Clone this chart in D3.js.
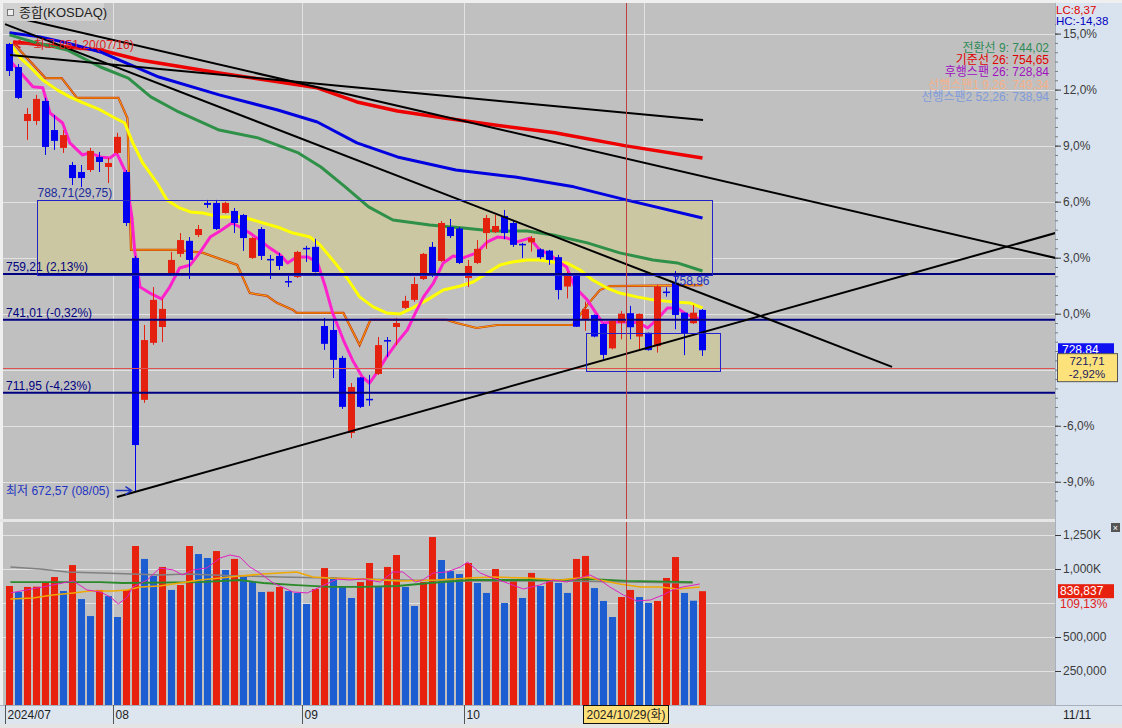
<!DOCTYPE html>
<html>
<head>
<meta charset="utf-8">
<script src="https://cdn.jsdelivr.net/npm/d3@7"></script>
<style>
  body { margin: 0; background: #efefef; }
</style>
</head>
<body>
<div id="app"></div>
<script>
// ---- data ----
const dates = [
  '2024/07/16','2024/07/17','2024/07/18','2024/07/19','2024/07/22','2024/07/23','2024/07/24','2024/07/25','2024/07/26','2024/07/29','2024/07/30','2024/07/31',
  '2024/08/01','2024/08/02','2024/08/05','2024/08/06','2024/08/07','2024/08/08','2024/08/09','2024/08/12','2024/08/13','2024/08/14','2024/08/16','2024/08/19','2024/08/20','2024/08/21','2024/08/22','2024/08/23','2024/08/26','2024/08/27','2024/08/28','2024/08/29','2024/08/30',
  '2024/09/02','2024/09/03','2024/09/04','2024/09/05','2024/09/06','2024/09/09','2024/09/10','2024/09/11','2024/09/12','2024/09/13','2024/09/19','2024/09/20','2024/09/23','2024/09/24','2024/09/25','2024/09/26','2024/09/27','2024/09/30',
  '2024/10/02','2024/10/04','2024/10/07','2024/10/08','2024/10/10','2024/10/11','2024/10/14','2024/10/15','2024/10/16','2024/10/17','2024/10/18','2024/10/21','2024/10/22','2024/10/23','2024/10/24','2024/10/25','2024/10/28','2024/10/29','2024/10/30','2024/10/31',
  '2024/11/01','2024/11/04','2024/11/05','2024/11/06','2024/11/07','2024/11/08','2024/11/11'
];
const open = [850.8,841.6,820.1,820.1,828.1,816.5,809.4,802.6,799.8,800.6,805.8,801.8,807.4,799.8,765.6,709.1,731.8,738.1,759.6,767.2,
  772.4,774.7,787.5,787.5,783.5,784.3,782.7,765.6,777.1,765.2,766.4,756.4,758.0,769.6,770.0,738.5,736.9,725.8,695.9,718.0,
  709.5,719.4,732.9,738.1,745.7,748.9,757.2,770.0,764.4,777.9,777.3,757.6,763.6,775.5,775.9,782.3,779.5,771.2,771.8,769.0,
  768.5,765.9,754.2,759.2,741.2,742.9,739.3,729.6,739.8,743.6,734.3,735.8,730.5,752.2,755.7,743.8,739.6,744.9];
const high = [851.2,842.8,825.3,830.5,829.3,822.5,816.5,803.8,802.6,809.4,807.8,805.4,815.4,800.6,766.4,738.9,754.0,749.3,768.0,775.5,
  773.9,778.7,788.7,788.7,788.0,785.5,783.1,773.9,777.9,766.8,767.6,758.8,768.4,770.4,773.2,741.7,740.9,726.6,715.8,718.2,
  719.0,734.1,734.1,741.7,750.5,758.0,767.6,771.9,780.3,781.1,777.9,764.8,772.7,782.7,782.7,784.7,780.3,771.6,774.3,769.4,
  768.8,766.8,760.1,759.6,748.2,743.1,739.5,740.7,744.5,746.5,743.5,735.9,754.8,753.9,760.4,743.9,746.9,745.2];
const low = [838.0,828.9,812.6,818.5,806.6,808.6,807.4,794.6,793.8,799.8,799.8,795.4,807.0,778.3,672.57,707.9,731.0,732.1,758.8,766.0,
  757.2,773.9,785.5,776.7,783.3,775.5,768.4,765.2,764.8,757.2,760.8,754.0,757.6,764.0,759.8,729.0,717.8,705.5,693.9,705.9,
  706.7,719.0,726.2,730.9,745.3,748.1,756.8,758.0,764.0,773.5,763.2,754.0,763.2,769.2,775.5,773.1,770.0,765.6,768.1,765.1,
  762.8,749.1,749.5,738.1,736.6,734.0,725.3,729.2,733.2,733.2,729.2,728.7,727.9,750.2,737.2,726.9,739.3,726.6];
const close = [840.0,829.3,822.9,828.9,809.8,812.2,814.5,797.4,797.4,808.2,803.8,803.4,813.8,779.5,691.1,732.9,748.9,745.3,764.8,772.7,
  764.8,777.1,786.7,777.1,787.5,779.5,773.5,773.5,766.4,764.8,762.4,756.0,768.0,769.2,760.0,731.4,725.0,706.3,714.2,706.3,
  709.1,730.9,732.5,739.7,748.5,755.2,767.2,758.8,779.5,774.3,763.6,762.4,769.2,781.5,778.3,775.5,770.8,770.8,773.5,765.9,
  764.8,752.8,759.2,738.2,745.2,734.3,727.0,740.6,743.4,738.0,743.3,728.9,754.2,752.0,742.9,735.6,743.8,728.84];
// volume in thousands
const volume = [875,831,868,870,897,941,838,1029,779,654,846,801,647,846,1169,1074,949,1015,846,882,
  1169,1110,1081,1132,993,1074,941,904,831,833,868,838,824,743,853,1007,941,868,787,904,
  1044,868,1015,1103,868,728,904,1235,1066,985,963,1044,897,824,1000,750,912,787,971,875,
  912,897,824,1074,1096,860,765,647,794,846,794,750,765,934,1088,824,766.8,836.837];

// moving averages as [bar index, value]
const ma5 = [[0,844.4],[2.6,833.7],[3.7,833.3],[4.5,823.3],[5.9,819.3],[6.7,811.4],[8.1,806.6],[8.9,807.4],[10.1,805.8],[11.2,805.4],
  [11.9,807.4],[12.8,800.6],[13.6,781.9],[13.9,768.8],[14.5,754.0],[15.6,751.6],[16.9,749.3],[17.8,754.0],[18.9,761.6],[20.1,762.8],
  [21.2,768.0],[22.3,773.9],[23.4,776.3],[24.7,779.5],[25.6,777.9],[26.7,775.5],[27.8,772.7],[28.9,769.6],[30.1,766.8],[30.9,763.6],
  [31.9,766.0],[33.1,766.0],[34.2,764.0],[35.1,754.0],[35.9,743.7],[37.1,732.9],[38.1,725.0],[39.2,718.2],[40.0,715.8],[40.8,719.8],
  [41.9,726.2],[43.0,731.7],[44.2,736.9],[45.1,743.7],[46.0,750.1],[47.1,755.6],[48.2,763.6],[49.3,766.4],[50.4,765.6],[51.9,767.6],
  [53.1,772.0],[54.2,773.9],[55.3,773.5],[56.4,772.0],[57.8,773.5],[58.9,768.8],[60.1,766.8],[61.2,763.6],[61.9,762.0],[62.8,754.0],
  [64.2,748.9],[65.3,742.9],[65.9,739.7],[67.5,740.1],[68.9,740.1],[70.0,739.7],[70.9,737.7],[71.9,740.9],[73.1,745.7],[74.2,745.7],
  [75.3,742.9],[76.4,741.7],[77,739.7]];
const ma20 = [[0,851.2],[1.2,845.2],[2.3,841.6],[3.7,836.4],[5.3,832.5],[6.7,829.7],[8.2,827.3],[10.1,824.5],[11.5,821.7],[12.8,819.3],
  [13.7,811.4],[14.8,803.4],[16.4,795.4],[17.5,788.7],[18.9,785.5],[20.1,783.9],[21.5,783.5],[23.4,781.9],[25.9,781.9],[28.2,779.5],
  [30.1,777.5],[31.5,775.5],[33.4,773.9],[34.5,770.8],[35.9,764.8],[37.5,757.6],[38.9,750.1],[40.4,746.1],[41.9,743.7],[43.4,743.3],
  [44.8,745.7],[46.4,748.9],[48.2,752.8],[50.1,754.4],[51.5,756.0],[53.1,759.6],[54.5,762.8],[55.9,764.0],[57.5,764.8],[58.9,764.8],
  [60.4,764.0],[61.9,763.6],[63.4,760.8],[64.8,756.8],[66.4,753.6],[67.8,751.6],[69.7,750.1],[71.5,748.9],[73.7,748.1],[75.6,747.7],[77,745.7]];
const ma60 = [[0,854.4],[2.6,851.6],[6.4,848.4],[10.1,841.6],[13.2,837.2],[15.7,829.7],[18.8,823.7],[23.3,816.5],[27.6,813.4],[32.1,807.4],
  [34.6,801.8],[37.3,793.9],[39.9,785.9],[42.6,780.7],[46.7,778.7],[50.4,777.5],[53.7,776.3],[57.5,776.3],[60.4,774.7],[64.2,771.6],
  [67.8,767.6],[71.5,764.8],[74.2,763.6],[77,760.4]];
const ma120 = [[0,855.2],[3.4,853.6],[6.4,851.2],[10.1,847.6],[16.6,837.6],[23.3,830.5],[29.8,824.5],[34.2,819.7],[38.6,811.4],[43.1,805.8],
  [49.6,800.6],[56.2,797.8],[62.7,793.9],[68.5,788.7],[77,781.5]];
const ma240 = [[0.4,851.6],[6.4,849.6],[10.1,848.4],[14.5,844.4],[23.3,839.2],[29.8,835.7],[34.2,833.3],[38.6,827.7],[43.1,824.1],[48.3,821.3],
  [53.9,818.5],[60.6,815.4],[68.5,810.2],[77,805.4]];
const kijun = [[0,850.4],[0.6,850.4],[4.0,837.2],[5.8,837.2],[7.5,829.3],[12.1,829.3],[13.1,821.3],[13.5,768.8],[14.2,768.8],[18.6,768.8],
  [21.5,767.6],[25.3,762.8],[26.7,751.6],[28.6,750.5],[29.7,747.7],[31.5,744.9],[31.9,743.7],[37.1,743.7],[38.9,730.9],[40.1,740.9],
  [48.6,740.9],[49.7,739.7],[51.9,737.7],[54.2,738.9],[62.6,738.9],[64.2,746.9],[65.6,752.8],[66.7,754.4],[77,754.8]];

const volMa5 = [[0.1,824],[1.9,846],[3.7,868],[5.9,897],[7.1,912],[8.6,846],[10.1,831],[11.2,794],[12.1,743],[13.1,794],[13.7,868],
  [15.3,919],[16.7,1007],[18.2,993],[19.2,956],[20.4,993],[21.9,1007],[23.4,1081],[24.5,1103],[25.6,1088],[26.7,1015],[27.8,971],
  [29.3,897],[31.5,831],[33.1,824],[34.5,868],[36.4,926],[37.8,919],[39.3,926],[41.2,904],[42.6,978],[43.7,978],[45.1,904],[45.9,919],
  [47.1,971],[48.6,978],[50.1,1015],[50.9,1051],[52.3,971],[53.4,941],[55.3,897],[57.1,853],[58.9,882],[60.4,919],[61.9,904],
  [63.4,934],[64.5,956],[65.6,919],[66.7,868],[68.2,809],[69.7,765],[71.2,772],[72.6,809],[73.7,846],[74.8,868],[76.7,890]];
const volMa20 = [[0.1,779],[2.6,787],[4.8,809],[7.1,824],[8.9,838],[11.5,838],[13.1,846],[14.5,868],[16.7,875],[18.9,897],[21.2,919],
  [23.4,934],[25.6,949],[28.2,963],[31.9,978],[33.7,941],[35.6,934],[39.3,926],[43.4,912],[47.5,919],[51.2,934],[53.7,941],[57.5,934],
  [61.2,919],[64.2,941],[65.6,919],[67.8,890],[70.1,868],[72.3,868],[74.2,853],[76.7,868]];
const volMa60 = [[0.1,904],[10.1,904],[12.6,897],[21.2,904],[25.6,919],[28.2,897],[31.9,882],[35.6,868],[39.3,868],[43.1,875],[46.7,897],
  [51.2,919],[61.2,919],[64.8,926],[68.6,912],[75.9,904]];
const volMa120 = [[0.1,1015],[3.4,1000],[6.4,978],[10.1,971],[13.7,963],[16.7,956],[19.7,963],[22.6,956],[25.6,949],[30.1,941],[35.6,934],
  [43.1,919],[51.2,912],[61.2,912],[68.6,904],[75.9,897]];

// drawn objects: horizontal levels, boxes, trend lines ([index, price] end points)
const levels = [759.21, 741.01, 711.95];
const boxRange = { from: 3, to: 78, lo: 758.96, hi: 788.71 };
const boxSmall = { from: 64, to: 78.9, lo: 720.6, hi: 735.7 };
const trendLines = [
  [[-0.5, 862.3], [116.2, 765.6]],
  [[-0.5, 858.7], [98.06, 722.2]],
  [[0.06, 846.4], [77.06, 820.5]],
  [[11.94, 670.4], [116.2, 775.5]]
];
const ichiNames = ['전환선 9', '기준선 26', '후행스팬 26', '선행스팬1 9,26', '선행스팬2 52,26'];
const ichiValues = [744.02, 754.65, 728.84, 749.34, 738.94];
const ichiColors = ['#2e8b57', '#e00000', '#a010c0', '#f5b08a', '#7f9bdc'];
const pctTicks = [15, 12, 9, 6, 3, 0, -3, -6, -9];
const volTicks = [250, 500, 750, 1000, 1250];
const cursorIdx = 68;
const cursorPrice = 721.71;
const lcText = 'LC:8,37';
const hcText = 'HC:-14,38';

// ---- layout ----
const plot = { left: 3, right: 1055, top: 3, bottom: 519 };
const vol = { top: 522, bottom: 705 };

const loc = d3.formatLocale({ decimal: ',', thousands: '.', grouping: [3], currency: ['', ''], minus: '-' });
const f2 = loc.format('.2f');
const f1 = loc.format('.1f');
const fThou = d3.format(',');

const x = d3.scaleLinear().domain([0, 77]).range([9.5, 702.5]);
const y = d3.scaleLinear().domain([672.57, 851.20]).range([491.6, 42.9]);
const base = close[cursorIdx];
const yPct = d3.scaleLinear().domain([-10, 16]).range([y(base * 0.90), y(base * 1.16)]);
const yVol = d3.scaleLinear().domain([0, 1250]).range([705, 535]);

const svg = d3.select('#app').append('svg')
  .attr('width', 1122).attr('height', 728)
  .attr('font-family', '"Liberation Sans","Noto Sans CJK KR",sans-serif')
  .attr('font-size', 12);

svg.append('rect').attr('width', 1122).attr('height', 728).attr('fill', '#efefef');
svg.append('rect').attr('x', plot.left).attr('y', plot.top)
  .attr('width', plot.right - plot.left).attr('height', plot.bottom - plot.top).attr('fill', '#c0c0c0');
svg.append('rect').attr('x', plot.left).attr('y', vol.top)
  .attr('width', plot.right - plot.left).attr('height', vol.bottom - vol.top).attr('fill', '#c0c0c0');
svg.append('rect').attr('x', plot.right).attr('y', plot.top)
  .attr('width', 1122 - plot.right).attr('height', vol.bottom - plot.top).attr('fill', '#d9e3ef');
svg.append('rect').attr('x', 0).attr('y', vol.bottom).attr('width', 1122).attr('height', 19).attr('fill', '#dde5ef');
svg.append('rect').attr('x', 0).attr('y', 724).attr('width', 1122).attr('height', 4).attr('fill', '#e4e4e4');
svg.append('line').attr('x1', plot.right + 0.5).attr('x2', plot.right + 0.5).attr('y1', plot.top).attr('y2', vol.bottom)
  .attr('stroke', '#a8b0bc');
svg.append('line').attr('x1', 0).attr('x2', 1122).attr('y1', vol.bottom + 0.5).attr('y2', vol.bottom + 0.5).attr('stroke', '#a8b0bc');

svg.append('clipPath').attr('id', 'clipP').append('rect')
  .attr('x', plot.left).attr('y', plot.top).attr('width', plot.right - plot.left).attr('height', plot.bottom - plot.top);
svg.append('clipPath').attr('id', 'clipV').append('rect')
  .attr('x', plot.left).attr('y', vol.top).attr('width', plot.right - plot.left).attr('height', vol.bottom - vol.top);

// month starts
const monthIdx = dates.map((d, i) => i).filter(i => i === 0 || dates[i].slice(5, 7) !== dates[i - 1].slice(5, 7));
const monthX = i => Math.round(x(i) - 4.5) + 0.5;

// grid
const grid = svg.append('g').attr('stroke', '#e2e2e2').attr('stroke-width', 1);
grid.selectAll('.gv').data(monthIdx.slice(1)).enter().append('line')
  .attr('x1', monthX).attr('x2', monthX).attr('y1', plot.top).attr('y2', vol.bottom);
grid.selectAll('.gh').data(pctTicks).enter().append('line')
  .attr('x1', plot.left).attr('x2', plot.right)
  .attr('y1', d => Math.round(yPct(d)) + 0.5).attr('y2', d => Math.round(yPct(d)) + 0.5);
grid.selectAll('.gvol').data(volTicks).enter().append('line')
  .attr('x1', plot.left).attr('x2', plot.right)
  .attr('y1', d => Math.round(yVol(d)) + 0.5).attr('y2', d => Math.round(yVol(d)) + 0.5);

const gP = svg.append('g').attr('clip-path', 'url(#clipP)');

// boxes (fill)
[boxRange, boxSmall].forEach(b => {
  gP.append('rect')
    .attr('x', x(b.from)).attr('y', y(b.hi))
    .attr('width', x(b.to) - x(b.from)).attr('height', y(b.lo) - y(b.hi))
    .attr('fill', '#cbc7a3');
});

// moving averages
const line = d3.line().x(d => x(d[0])).y(d => y(d[1]));
gP.append('path').datum(kijun).attr('d', line).attr('fill', 'none').attr('stroke', '#c83010').attr('stroke-width', 2.2);
gP.append('path').datum(kijun).attr('d', line).attr('fill', 'none').attr('stroke', '#ffb400').attr('stroke-width', 0.9);
[[ma240, '#ee0000', 3.5], [ma120, '#0000e0', 3], [ma60, '#2f9048', 3], [ma20, '#ffff00', 3], [ma5, '#ff22cc', 3]]
  .forEach(([data, color, w]) => {
    gP.append('path').datum(data).attr('d', line)
      .attr('fill', 'none').attr('stroke', color).attr('stroke-width', w).attr('stroke-linejoin', 'round');
  });

// candles
const upCol = '#e4200f', downCol = '#0000f0';
const cCol = i => close[i] >= open[i] ? upCol : downCol;
const candle = gP.selectAll('.candle').data(d3.range(dates.length)).enter().append('g');
candle.append('line')
  .attr('x1', x).attr('x2', x)
  .attr('y1', i => y(high[i])).attr('y2', i => y(low[i]))
  .attr('stroke', cCol).attr('stroke-width', 1);
candle.append('rect')
  .attr('x', i => x(i) - 3.5).attr('width', 7)
  .attr('y', i => y(Math.max(open[i], close[i])))
  .attr('height', i => Math.max(1.5, Math.abs(y(open[i]) - y(close[i]))))
  .attr('fill', cCol);

// horizontal levels
gP.selectAll('.lvl').data(levels).enter().append('line')
  .attr('x1', plot.left).attr('x2', plot.right)
  .attr('y1', d => y(d)).attr('y2', d => y(d))
  .attr('stroke', '#000080').attr('stroke-width', 2);

// cursor horizontal
gP.append('line').attr('x1', plot.left).attr('x2', plot.right)
  .attr('y1', Math.round(y(cursorPrice)) + 0.5).attr('y2', Math.round(y(cursorPrice)) + 0.5)
  .attr('stroke', '#e05050').attr('stroke-width', 1);

// trend lines
gP.selectAll('.trend').data(trendLines).enter().append('line')
  .attr('x1', d => x(d[0][0])).attr('y1', d => y(d[0][1]))
  .attr('x2', d => x(d[1][0])).attr('y2', d => y(d[1][1]))
  .attr('stroke', '#000').attr('stroke-width', 2);

// box borders
[boxRange, boxSmall].forEach(b => {
  gP.append('rect')
    .attr('x', Math.round(x(b.from)) + 0.5).attr('y', Math.round(y(b.hi)) + 0.5)
    .attr('width', Math.round(x(b.to) - x(b.from))).attr('height', Math.round(y(b.lo) - y(b.hi)))
    .attr('fill', 'none').attr('stroke', '#2222cc').attr('stroke-width', 1);
});

// labels inside price panel
const navy = '#000080';
levels.forEach(v => {
  const pct = (v / base - 1) * 100;
  gP.append('text').attr('x', 6).attr('y', y(v) - 3).attr('fill', navy)
    .text(`${f2(v)} (${f2(pct)}%)`);
});
gP.append('text').attr('x', x(boxRange.from) + 1).attr('y', y(boxRange.hi) - 3).attr('fill', '#1a2a9a')
  .text(`${f2(boxRange.hi)}(${f2(boxRange.hi - boxRange.lo)})`);
gP.append('text').attr('x', x(boxRange.to) - 2).attr('y', y(boxRange.lo) + 10).attr('text-anchor', 'end')
  .attr('fill', '#2030c0').text(f2(boxRange.lo));

const hiIdx = d3.maxIndex(high), loIdx = d3.minIndex(low);
const hiY = y(high[hiIdx]), loY = y(low[loIdx]);
gP.append('path').attr('d', `M${x(hiIdx) + 22},${hiY + 1}H${x(hiIdx) + 6}M${x(hiIdx) + 11},${hiY - 3}L${x(hiIdx) + 5},${hiY + 1}L${x(hiIdx) + 11},${hiY + 5}`)
  .attr('stroke', '#e02020').attr('fill', 'none').attr('stroke-width', 1.5);
gP.append('text').attr('x', x(hiIdx) + 24).attr('y', hiY + 6).attr('fill', '#e02020')
  .text(`최고 ${f2(high[hiIdx])}(${dates[hiIdx].slice(5)})`);
gP.append('text').attr('x', 6).attr('y', loY + 3).attr('fill', '#1f35c0')
  .text(`최저 ${f2(low[loIdx])} (${dates[loIdx].slice(5)})`);
gP.append('path').attr('d', `M${x(loIdx) - 20},${loY - 1}H${x(loIdx) - 4}M${x(loIdx) - 10},${loY - 5}L${x(loIdx) - 4},${loY - 1}L${x(loIdx) - 10},${loY + 3}`)
  .attr('stroke', '#1f35c0').attr('fill', 'none').attr('stroke-width', 1.5);

// ichimoku legend
svg.append('g').selectAll('text').data(ichiNames).enter().append('text')
  .attr('x', 1049).attr('y', (d, i) => 52 + i * 12.2)
  .attr('text-anchor', 'end').attr('fill', (d, i) => ichiColors[i])
  .text((d, i) => `${d}: ${f2(ichiValues[i])}`);

// title
svg.append('rect').attr('x', 3).attr('y', 3).attr('width', 101).attr('height', 18).attr('fill', '#d2d2d2');
svg.append('rect').attr('x', 7.5).attr('y', 9.5).attr('width', 6).attr('height', 6).attr('fill', '#eee').attr('stroke', '#777');
svg.append('text').attr('x', 19).attr('y', 17).attr('font-size', 13).attr('fill', '#222').text('종합(KOSDAQ)');

// ---- volume ----
const gV = svg.append('g').attr('clip-path', 'url(#clipV)');
const vCol = i => (i === 0 || volume[i] >= volume[i - 1]) ? '#e8200e' : '#1c5ed2';
gV.selectAll('.vbar').data(d3.range(volume.length)).enter().append('rect')
  .attr('x', i => x(i) - 3.5).attr('width', 7)
  .attr('y', i => yVol(volume[i])).attr('height', i => yVol(0) - yVol(volume[i]))
  .attr('fill', vCol);
const vLine = d3.line().x(d => x(d[0])).y(d => yVol(d[1]));
[[volMa120, '#808080', 1.5], [volMa60, '#2a8a2a', 1.8], [volMa20, '#f0a800', 1.5], [volMa5, '#e020c0', 1]]
  .forEach(([data, color, w]) => {
    gV.append('path').datum(data).attr('d', vLine).attr('fill', 'none')
      .attr('stroke', color).attr('stroke-width', w);
  });

// cursor vertical
svg.append('line').attr('x1', Math.round(x(cursorIdx) + 5) + 0.5).attr('x2', Math.round(x(cursorIdx) + 5) + 0.5)
  .attr('y1', plot.top).attr('y2', vol.bottom).attr('stroke', '#c04040').attr('stroke-width', 1);

// separator between panels
svg.append('rect').attr('x', 0).attr('y', plot.bottom).attr('width', plot.right).attr('height', vol.top - plot.bottom).attr('fill', '#e6e6e6');

// ---- right axes ----
const axisCol = '#3c3c3c';
const lastI = close.length - 1;
const lastV = volume[lastI];
const vy = yVol(lastV);
const cy = y(cursorPrice);

const pAxis = svg.append('g').attr('transform', `translate(${plot.right},0)`)
  .call(d3.axisRight(yPct).tickValues(d3.range(-10, 16, 0.5)).tickSize(3).tickFormat(''));
pAxis.select('.domain').remove();
pAxis.selectAll('line').attr('stroke', '#7a7a7a');
// the label under the cursor price tag is covered in the reference
const pctShown = pctTicks.filter(t => Math.abs(yPct(t) - cy) > 16);
const pAxis2 = svg.append('g').attr('transform', `translate(${plot.right},0)`)
  .call(d3.axisRight(yPct).tickValues(pctShown).tickSize(6).tickPadding(2).tickFormat(d => f1(d) + '%'));
pAxis2.select('.domain').remove();
pAxis2.selectAll('line').attr('stroke', axisCol);
pAxis2.selectAll('text').attr('font-size', 12).attr('font-family', null).attr('fill', axisCol);

// volume axis; the label under the last-volume tag is covered in the reference
const vTickShown = volTicks.filter(t => Math.abs(yVol(t) - vy) > 16);
const vAxis = svg.append('g').attr('transform', `translate(${plot.right},0)`)
  .call(d3.axisRight(yVol).tickValues(vTickShown).tickSize(6).tickPadding(2)
    .tickFormat(d => d >= 1000 ? fThou(d) + 'K' : fThou(d * 1000)));
vAxis.select('.domain').remove();
vAxis.selectAll('line').attr('stroke', axisCol);
vAxis.selectAll('text').attr('font-size', 12).attr('font-family', null).attr('fill', axisCol);

// LC / HC
svg.append('rect').attr('x', plot.right + 1).attr('y', 4).attr('width', 66).attr('height', 23).attr('fill', '#d9e3ef');
svg.append('text').attr('x', plot.right + 1).attr('y', 14).attr('font-size', 11.5).attr('fill', '#e00000').text(lcText);
svg.append('text').attr('x', plot.right + 1).attr('y', 25).attr('font-size', 11.5).attr('fill', '#0000c0').text(hcText);

// last close tag
const lastY = y(close[lastI]);
svg.append('rect').attr('x', plot.right + 3).attr('y', lastY - 7).attr('width', 56).attr('height', 13).attr('fill', '#1010f0');
svg.append('text').attr('x', plot.right + 7).attr('y', lastY + 4).attr('fill', '#fff').text(f2(close[lastI]));
// cursor price tag
svg.append('rect').attr('x', plot.right + 2.5).attr('y', cy - 14.5).attr('width', 60).attr('height', 28)
  .attr('fill', '#fde27c').attr('stroke', '#555');
svg.append('text').attr('x', plot.right + 32).attr('y', cy - 3).attr('text-anchor', 'middle').attr('fill', '#1a1a60')
  .attr('font-size', 11.5).text(f2(cursorPrice));
svg.append('text').attr('x', plot.right + 32).attr('y', cy + 10).attr('text-anchor', 'middle').attr('fill', '#1a1a60')
  .attr('font-size', 11.5).text(f2((cursorPrice / base - 1) * 100) + '%');

// last volume tag
svg.append('rect').attr('x', plot.right + 3).attr('y', vy - 7).attr('width', 56).attr('height', 14).attr('fill', '#e8200e');
svg.append('text').attr('x', plot.right + 5).attr('y', vy + 4).attr('fill', '#fff').text(fThou(Math.round(lastV * 1000)));
svg.append('text').attr('x', plot.right + 5).attr('y', vy + 17).attr('fill', '#e02020')
  .text(f2(lastV / volume[lastI - 1] * 100) + '%');
svg.append('rect').attr('x', 1111).attr('y', 523).attr('width', 9).attr('height', 9).attr('fill', '#555');
svg.append('text').attr('x', 1115.5).attr('y', 531).attr('text-anchor', 'middle').attr('font-size', 9).attr('fill', '#fff').text('×');

// ---- date axis ----
const cxPos = Math.round(x(cursorIdx) + 5);
const dAxis = svg.append('g');
dAxis.selectAll('line').data(monthIdx).enter().append('line')
  .attr('x1', monthX).attr('x2', monthX).attr('y1', vol.bottom).attr('y2', 724)
  .attr('stroke', '#555');
// month labels hidden by the cursor date box are left out
const monthLabelIdx = monthIdx.filter(i => Math.abs(monthX(i) - cxPos) > 50);
dAxis.selectAll('text').data(monthLabelIdx).enter().append('text')
  .attr('x', i => monthX(i) + 2).attr('y', 719).attr('fill', '#222')
  .text((i, k) => k === 0 ? dates[i].slice(0, 7) : dates[i].slice(5, 7));
svg.append('text').attr('x', plot.right + 8).attr('y', 719).attr('fill', '#222')
  .text(dates[lastI].slice(5));
const wk = ['일', '월', '화', '수', '목', '금', '토'];
const cd = d3.timeParse('%Y/%m/%d')(dates[cursorIdx]);
svg.append('rect').attr('x', cxPos - 42.5).attr('y', vol.bottom + 0.5).attr('width', 85).attr('height', 18)
  .attr('fill', '#ffe07a').attr('stroke', '#111');
svg.append('text').attr('x', cxPos).attr('y', 719).attr('text-anchor', 'middle').attr('fill', '#222')
  .text(`${dates[cursorIdx]}(${wk[cd.getDay()]})`);
</script>
</body>
</html>
